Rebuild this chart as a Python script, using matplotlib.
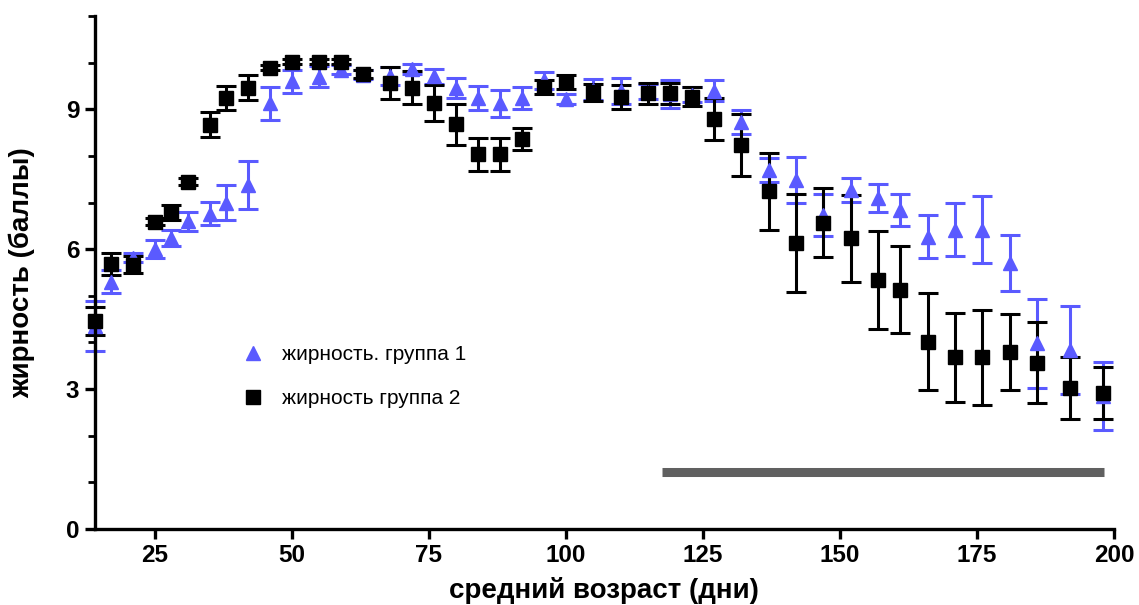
import numpy as np
import matplotlib
matplotlib.use('Agg')
import matplotlib.pyplot as plt

plt.rcParams['font.family'] = ['Liberation Sans', 'DejaVu Sans']

# средний возраст (дни)
age = [14, 17, 21, 25, 28, 31, 35, 38, 42, 46, 50, 55, 59, 63, 68, 72, 76, 80,
       84, 88, 92, 96, 100, 105, 110, 115, 119, 123, 127, 132, 137, 142, 147,
       152, 157, 161, 166, 171, 176, 181, 186, 192, 198]

# группа 1 (triangles)
g1_mean = [4.35, 5.3, 5.82, 6.0, 6.24, 6.6, 6.76, 7.0, 7.38, 9.13, 9.6, 9.7,
           9.85, 9.74, 9.71, 9.86, 9.71, 9.46, 9.24, 9.13, 9.24, 9.62, 9.22,
           9.42, 9.4, 9.38, 9.33, 9.31, 9.4, 8.72, 7.7, 7.48, 6.74, 7.27, 7.1,
           6.84, 6.27, 6.42, 6.42, 5.7, 3.98, 3.84, 2.86]
g1_err = [0.53, 0.25, 0.1, 0.2, 0.18, 0.2, 0.25, 0.38, 0.52, 0.35, 0.25, 0.22,
          0.1, 0.1, 0.2, 0.1, 0.16, 0.22, 0.25, 0.29, 0.24, 0.18, 0.1, 0.22,
          0.28, 0.17, 0.3, 0.16, 0.23, 0.26, 0.25, 0.5, 0.45, 0.25, 0.3, 0.35,
          0.47, 0.57, 0.72, 0.6, 0.95, 0.95, 0.73]

# группа 2 (squares)
g2_mean = [4.47, 5.68, 5.67, 6.59, 6.78, 7.45, 8.67, 9.24, 9.46, 9.89, 10.02,
           10.02, 10.02, 9.76, 9.56, 9.46, 9.13, 8.68, 8.03, 8.03, 8.36, 9.48,
           9.58, 9.36, 9.27, 9.34, 9.34, 9.27, 8.79, 8.23, 7.24, 6.13, 6.57,
           6.23, 5.34, 5.13, 4.02, 3.68, 3.68, 3.8, 3.57, 3.02, 2.91]
g2_err = [0.3, 0.23, 0.18, 0.08, 0.16, 0.08, 0.27, 0.26, 0.27, 0.05, 0.05,
          0.05, 0.05, 0.08, 0.34, 0.35, 0.39, 0.44, 0.36, 0.36, 0.24, 0.15,
          0.15, 0.18, 0.26, 0.23, 0.22, 0.2, 0.45, 0.66, 0.83, 1.05, 0.74,
          0.93, 1.06, 0.93, 1.03, 0.95, 1.02, 0.81, 0.86, 0.66, 0.56]

g1_label = 'жирность. группа 1'
g2_label = 'жирность группа 2'

# horizontal gray bar (period marker)
bar_start, bar_end, bar_y = 117.5, 198.2, 1.22

blue = '#5a5aff'

fig = plt.figure(figsize=(11.39, 6.05), dpi=100)
ax = fig.add_axes([0.083, 0.1256, 0.895, 0.848])

eb1 = ax.errorbar(age, g1_mean, yerr=g1_err, fmt='^', color=blue, ecolor=blue,
                  markersize=10, elinewidth=2.2, capsize=7, capthick=2.2,
                  label=g1_label, clip_on=False)
eb2 = ax.errorbar(age, g2_mean, yerr=g2_err, fmt='s', color='black',
                  ecolor='black', markersize=9.5, elinewidth=2.2, capsize=7,
                  capthick=2.2, label=g2_label, clip_on=False)

ax.plot([bar_start, bar_end], [bar_y, bar_y], color='#606060', linewidth=6.5,
        solid_capstyle='butt')

ax.set_xlim(14, 200)
ax.set_ylim(0, 11)
ax.set_xticks([25, 50, 75, 100, 125, 150, 175, 200])
ax.set_yticks([0, 3, 6, 9])
ax.set_yticks(np.arange(0, 12, 1), minor=True)

for side in ['top', 'right']:
    ax.spines[side].set_visible(False)
for side in ['left', 'bottom']:
    ax.spines[side].set_linewidth(2.4)

ax.tick_params(axis='both', which='major', length=7, width=2.4,
               labelsize=17.5, pad=4)
ax.tick_params(axis='y', which='minor', length=5, width=2.0)
for lab in ax.get_xticklabels() + ax.get_yticklabels():
    lab.set_fontweight('bold')

ax.set_xlabel('средний возраст (дни)', fontsize=20, fontweight='bold',
              labelpad=7)
ax.set_ylabel('жирность (баллы)', fontsize=20, fontweight='bold', labelpad=22)

ax.legend([eb1[0], eb2[0]], [g1_label, g2_label], frameon=False,
          fontsize=15, loc='upper left', bbox_to_anchor=(0.125, 0.395),
          handletextpad=0.8, labelspacing=1.2, handlelength=1.2)

fig.savefig('out.png', dpi=100)
